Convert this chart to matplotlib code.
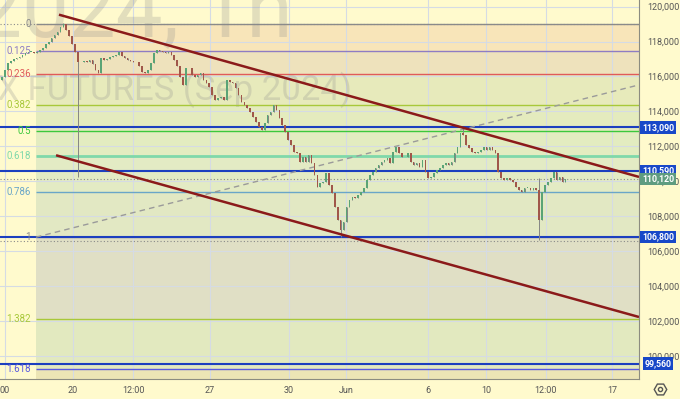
import matplotlib
matplotlib.use("Agg")
import matplotlib.pyplot as plt
from matplotlib.ticker import FuncFormatter

# hourly closes (left to right)
closes = [
    115970, 116380, 116780, 116890, 117000, 117060, 117120, 117230, 117350, 117410,
    117410, 117350, 117410, 117520, 117640, 117860, 117980, 118210, 118380, 118550,
    118840, 119010, 118670, 118320, 117860, 117410, 116830, 116830, 116890, 116830,
    116950, 116720, 116380, 116200, 117060, 116950, 117000, 117120, 117180, 117230,
    117410, 117180, 117060, 116950, 116890, 116830, 116830, 116600, 116260, 116200,
    116380, 116780, 117350, 117520, 117460, 117410, 117350, 117410, 117230, 116950,
    116600, 115970, 115520, 116490, 116490, 116090, 115970, 116090, 116200, 115800,
    115630, 115400, 114940, 114660, 114770, 114830, 114660, 115800, 115690, 115630,
    115340, 114940, 114540, 114370, 114200, 113970, 113680, 113400, 113110, 112940,
    113340, 113800, 113970, 114370, 114080, 113630, 113230, 112820, 112370, 112080,
    111680, 111620, 111110, 111390, 111110, 111510, 111050, 110360, 109670, 109900,
    109960, 110480, 109790, 109330, 108530, 107780, 107210, 107670, 108530, 108930,
    109100, 109040, 109220, 109390, 109620, 110080, 110360, 110530, 110760, 110930,
    111110, 111220, 111340, 111050, 111680, 111970, 111620, 111390, 111390, 111620,
    111110, 110930, 111050, 110820, 111220, 110530, 110190, 110250, 110480, 110650,
    110760, 110930, 111050, 110930, 111110, 111620, 111970, 112770, 112650, 112080,
    111910, 111680, 111620, 111680, 111790, 111970, 111790, 111970, 111790, 111620,
    110530, 110190, 110080, 110190, 110080, 109960, 109670, 109500, 109390, 109620,
    109620, 109500, 109620, 109500, 107780, 109390, 109790, 109960, 110190, 110530,
    110080, 110250, 109960, 110120,
]
first_open = 115800
wick_high = {21: 119070, 158: 113050, 184: 110190}
wick_low = {26: 110250, 116: 106810, 184: 106640}

tick_pos = [1.0, 24.3, 44.9, 71.2, 98.3, 117.8, 145.9, 165.8, 186.3, 208.9]
tick_labels = ["00", "20", "12:00", "27", "30", "Jun", "6", "10", "12:00", "17"]
price_ticks = list(range(100000, 120001, 2000))

# fibonacci retracement
fib_high = 119000
fib_low = 106800
fib_start = 11.6
fib_levels = [0, 0.125, 0.236, 0.382, 0.5, 0.618, 0.786, 1, 1.382, 1.618]
fib_names = ["0", "0.125", "0.236", "0.382", "0.5", "0.618", "0.786", "1", "1.382", "1.618"]
fib_colors = ["#8a8a8a", "#8e7cc3", "#e05a5a", "#a8c83a", "#3cc83c",
              "#7fd8aa", "#6aa6c8", "#8a8a8a", "#a8c83a", "#5a5ae0"]
band_colors = ["#f8e5b9", "#eee2bc", "#e7eabb", "#e4ebbe", "#e3ecc0",
               "#e3ebc4", "#e2e8c3", "#e0dfc5", "#e2e9bf", "#ece5b5"]

# drawn lines
blue_levels = [113090, 110590, 106800, 99560]
dotted_levels = [119030, 110120, 106580]
trend_upper = [(19.5, 119540), (218.2, 110250)]
trend_lower = [(18.5, 111490), (218.2, 102230)]
dashed_line = [(11.6, 106800), (218.2, 115520)]
price_boxes = [(113090, "#1848c8"), (110590, "#1848c8"), (110120, "#5f9c80"),
               (106800, "#1848c8"), (99560, "#1848c8")]

BG = "#fffacd"
X_MIN, X_MAX = -0.7, 218.2
Y_MIN, Y_MAX = 98680, 120380

plt.rcParams["font.family"] = ["Roboto", "DejaVu Sans"]

fig = plt.figure(figsize=(6.8, 3.99), dpi=100, facecolor=BG)
ax = fig.add_axes([0, 20 / 399, 639 / 680, 379 / 399])
ax.set_facecolor(BG)
ax.set_xlim(X_MIN, X_MAX)
ax.set_ylim(Y_MIN, Y_MAX)

# fib bands
prices = [fib_high - l * (fib_high - fib_low) for l in fib_levels]
edges = prices + [Y_MIN]
for i, c in enumerate(band_colors):
    ax.fill_between([fib_start, X_MAX], edges[i + 1], edges[i], color=c, lw=0, zorder=0.5)

# grid
for p in price_ticks:
    ax.axhline(p, color="#d5dbe4", lw=0.8, zorder=1)
for t in tick_pos:
    ax.axvline(t, color="#d5dbe4", lw=0.8, zorder=1)

# watermark
ax.text(292 / 639, (379 - 36) / 379, "RIU2024, 1h", transform=ax.transAxes,
        ha="right", va="baseline", fontsize=60, color="#8c8c8c", alpha=0.25, zorder=1.5)
ax.text(352 / 639, (379 - 100) / 379, "RTS INDEX FUTURES (Sep 2024)", transform=ax.transAxes,
        ha="right", va="baseline", fontsize=25, color="#8c8c8c", alpha=0.25, zorder=1.5)

# fib lines and labels
for p, name, c in zip(prices, fib_names, fib_colors):
    lw = 2 if name == "0.618" else 1
    ax.hlines(p, fib_start, X_MAX, color=c, lw=lw, zorder=2)
    ax.text(9.8, p, name, color=c, fontsize=7, ha="right", va="center", zorder=3)

for p in dotted_levels:
    ax.axhline(p, color="#8a8a8a", lw=0.8, ls=(0, (1, 2)), zorder=2)
for p in blue_levels:
    ax.axhline(p, color="#1c3fbf", lw=1.5, zorder=2.5)

(x0, y0), (x1, y1) = dashed_line
ax.plot([x0, x1], [y0, y1], color="#9a9a9a", lw=1, ls=(0, (4, 3)), zorder=2.5)

# candles
opens = [first_open] + closes[:-1]
for i, (o, c) in enumerate(zip(opens, closes)):
    hi = wick_high.get(i, max(o, c))
    lo = wick_low.get(i, min(o, c))
    col = "#5aa476" if c >= o else "#a0574a"
    ax.vlines(i, lo, hi, color="#858585", lw=0.7, zorder=3)
    ax.bar(i, max(abs(c - o), 25), bottom=min(o, c), width=0.55, color=col, lw=0, zorder=3.2)

for (xa, ya), (xb, yb) in [trend_upper, trend_lower]:
    ax.plot([xa, xb], [ya, yb], color="#8b1a1a", lw=1.8, zorder=4, solid_capstyle="butt")

# axes styling
for s in ["top", "left"]:
    ax.spines[s].set_visible(False)
ax.spines["right"].set_color("#8c8c80")
ax.spines["bottom"].set_color("#8c8c80")
ax.yaxis.tick_right()
ax.set_yticks(price_ticks)
ax.yaxis.set_major_formatter(FuncFormatter(lambda v, _: f"{int(v):,}"))
ax.set_xticks(tick_pos)
ax.set_xticklabels(tick_labels)
ax.tick_params(axis="y", length=0, pad=6, labelsize=6.5, labelcolor="#555555")
ax.tick_params(axis="x", length=0, pad=5, labelsize=6.5, labelcolor="#555555")

# price boxes on right scale
tr = ax.get_yaxis_transform()
for p, c in price_boxes:
    ax.text(1.0 + 19 / 639, p, f"{p:,}", transform=tr, ha="center", va="center",
            fontsize=6.3, color="white", fontweight="bold", zorder=5, clip_on=False,
            bbox=dict(boxstyle="square,pad=0.2", fc=c, ec="none"))

# settings icon
fig.lines.append(plt.Line2D([660 / 680], [1 - 389 / 399], marker="H", ms=9, mfc="none",
                            mec="#555555", mew=1, transform=fig.transFigure))
fig.lines.append(plt.Line2D([660 / 680], [1 - 389 / 399], marker="o", ms=3, mfc="none",
                            mec="#555555", mew=1, transform=fig.transFigure))

fig.savefig("out.png", dpi=100, facecolor=BG)
